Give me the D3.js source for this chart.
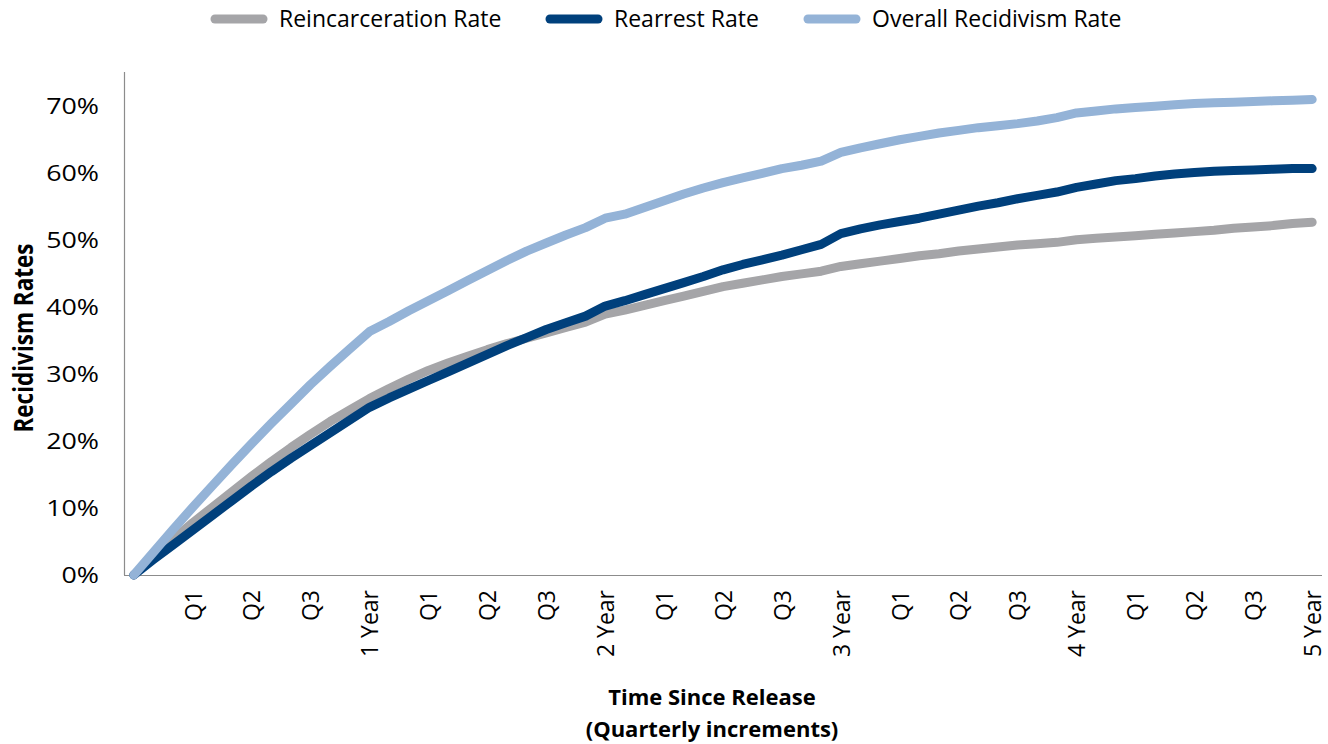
<!DOCTYPE html>
<html>
<head>
<meta charset="utf-8">
<script src="https://cdn.jsdelivr.net/npm/d3@7"></script>
<style>
  html, body { margin: 0; padding: 0; background: #fff; }
  svg { display: block; font-family: "Open Sans", sans-serif; }
</style>
</head>
<body>
<svg id="chart" width="1328" height="744"></svg>
<script>
// ---- data ----
const months = d3.range(0, 61);
const reincarceration = [0, 2.7, 5.3, 7.8, 10.1, 12.4, 14.7, 16.9, 19.0, 21.0, 22.9, 24.6, 26.3,
  27.8, 29.2, 30.5, 31.6, 32.6, 33.6, 34.5, 35.3, 36.1, 36.9, 37.7, 38.9,
  39.5, 40.2, 40.9, 41.6, 42.3, 43.0, 43.5, 44.0, 44.5, 44.9, 45.3, 46.0,
  46.4, 46.8, 47.2, 47.6, 47.9, 48.3, 48.6, 48.9, 49.2, 49.4, 49.6, 50.0,
  50.2, 50.4, 50.6, 50.8, 51.0, 51.2, 51.4, 51.7, 51.9, 52.1, 52.4, 52.6];
const rearrest = [0, 2.3, 4.5, 6.7, 8.9, 11.1, 13.3, 15.4, 17.4, 19.3, 21.2, 23.1, 25.0,
  26.4, 27.7, 29.0, 30.3, 31.6, 32.9, 34.2, 35.4, 36.6, 37.6, 38.6, 40.1,
  40.9, 41.8, 42.7, 43.6, 44.5, 45.5, 46.3, 47.0, 47.7, 48.5, 49.3, 50.9,
  51.6, 52.2, 52.7, 53.2, 53.8, 54.4, 55.0, 55.5, 56.1, 56.6, 57.1, 57.8,
  58.3, 58.8, 59.1, 59.5, 59.8, 60.0, 60.2, 60.3, 60.4, 60.5, 60.6, 60.6];
const overall = [0, 3.4, 6.8, 10.1, 13.3, 16.5, 19.6, 22.6, 25.5, 28.4, 31.1, 33.7, 36.3,
  37.8, 39.4, 40.9, 42.4, 43.9, 45.4, 46.9, 48.3, 49.5, 50.7, 51.8, 53.2,
  53.8, 54.8, 55.8, 56.8, 57.7, 58.5, 59.2, 59.9, 60.6, 61.1, 61.7, 63.0,
  63.7, 64.3, 64.9, 65.4, 65.9, 66.3, 66.7, 67.0, 67.3, 67.7, 68.2, 68.9,
  69.2, 69.5, 69.7, 69.9, 70.1, 70.3, 70.4, 70.5, 70.6, 70.7, 70.8, 70.9];
const seriesNames = ["Reincarceration Rate", "Rearrest Rate", "Overall Recidivism Rate"];
const xTickMonths = d3.range(3, 61, 3);
const xTickLabels = ["Q1","Q2","Q3","1 Year","Q1","Q2","Q3","2 Year","Q1","Q2","Q3","3 Year",
  "Q1","Q2","Q3","4 Year","Q1","Q2","Q3","5 Year"];
const yTicks = [0, 10, 20, 30, 40, 50, 60, 70];

(function () {
// ---- layout ----
const colors = ["#a5a5a8", "#00407c", "#94b3d7"];
const pLeft = 124, pRight = 1322, pTop = 72, pBottom = 575;
const svg = d3.select("#chart");

const x = d3.scaleLinear().domain([-0.5, 60.5]).range([pLeft, pRight]);
const y = d3.scaleLinear().domain([0, 75]).range([pBottom, pTop]);

// axes lines
svg.append("line").attr("x1", pLeft + 0.5).attr("x2", pLeft + 0.5).attr("y1", pTop).attr("y2", pBottom)
  .attr("stroke", "#8c8c8c").attr("stroke-width", 1.2);
svg.append("line").attr("x1", pLeft).attr("x2", pRight).attr("y1", pBottom + 0.5).attr("y2", pBottom + 0.5)
  .attr("stroke", "#8c8c8c").attr("stroke-width", 1.2);

// y axis
const yAxis = d3.axisLeft(y).tickValues(yTicks).tickSize(0).tickPadding(0)
  .tickFormat(d => d + "%");
const gy = svg.append("g").attr("transform", `translate(99,0)`).call(yAxis);
gy.select(".domain").remove();
gy.selectAll("text").attr("font-family", "Open Sans, sans-serif").attr("font-size", 22)
  .attr("fill", "#000").attr("x", 0).attr("dy", "0.36em")
  .attr("transform", "scale(1.22,1)");

// x axis
const xAxis = d3.axisBottom(x).tickValues(xTickMonths).tickSize(0)
  .tickFormat((d, i) => xTickLabels[i]);
const gx = svg.append("g").attr("transform", `translate(0,${pBottom})`).call(xAxis);
gx.select(".domain").remove();
gx.selectAll("text")
  .attr("font-family", "Open Sans, sans-serif").attr("font-size", 23).attr("fill", "#000")
  .attr("text-anchor", "end")
  .attr("transform", "rotate(-90)")
  .attr("x", -15).attr("y", 0).attr("dy", "0.36em");

// lines
const line = d3.line().x((d, i) => x(months[i])).y(d => y(d));
[reincarceration, rearrest, overall].forEach((s, k) => {
  svg.append("path").datum(s)
    .attr("d", line)
    .attr("fill", "none")
    .attr("stroke", colors[k])
    .attr("stroke-width", 9)
    .attr("stroke-linejoin", "round")
    .attr("stroke-linecap", "round");
});

// legend
const legendX = [211, 546, 804];
seriesNames.forEach((name, k) => {
  const g = svg.append("g").attr("transform", `translate(${legendX[k]},19)`);
  g.append("line").attr("x1", 4).attr("x2", 52).attr("y1", 0).attr("y2", 0)
    .attr("stroke", colors[k]).attr("stroke-width", 9).attr("stroke-linecap", "round");
  g.append("text").attr("x", 68).attr("y", 0).attr("dy", "0.36em")
    .attr("font-size", 23).attr("fill", "#000").text(name);
});

// axis titles
svg.append("text").attr("transform", `translate(33,338) rotate(-90) scale(1,1.15)`)
  .attr("text-anchor", "middle").attr("font-weight", "bold").attr("font-size", 22.5)
  .attr("fill", "#000").text("Recidivism Rates");
svg.append("text").attr("x", 712).attr("y", 705).attr("text-anchor", "middle")
  .attr("font-weight", "bold").attr("font-size", 22).attr("fill", "#000").text("Time Since Release");
svg.append("text").attr("x", 712).attr("y", 737).attr("text-anchor", "middle")
  .attr("font-weight", "bold").attr("font-size", 22).attr("fill", "#000").text("(Quarterly increments)");
})();
</script>
</body>
</html>
